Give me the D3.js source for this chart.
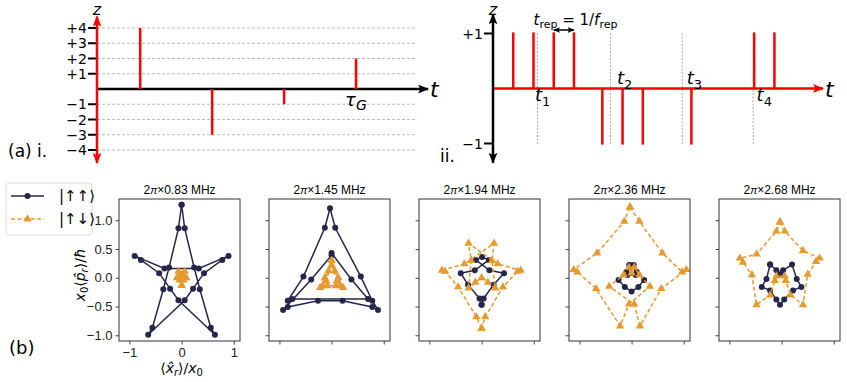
<!DOCTYPE html>
<html>
<head>
<meta charset="utf-8">
<script src="https://cdn.jsdelivr.net/npm/d3@7"></script>
<style>
  body { margin: 0; background: #fff; }
  text { font-family: "DejaVu Sans", sans-serif; }
  .num { font-family: "Liberation Sans", Arial, sans-serif; }
</style>
</head>
<body>
<div id="chart"></div>
<script>
// ----- (a) i : ideal kicks
const zLevelsI = [4, 3, 2, 1, -1, -2, -3, -4];
const zLabelsI = ["+4", "+3", "+2", "+1", "\u22121", "\u22122", "\u22123", "\u22124"];
const pulseTimesI = [0.6, 1.6, 2.6, 3.6];
const pulseAmpsI = [4, -3, -1, 2];

// ----- (a) ii : pulse train
const zLevelsII = [1, -1];
const zLabelsII = ["+1", "\u22121"];
const pulseTimesII = [1, 2, 3, 4, 5.4, 6.4, 7.4, 9.8, 12.9, 13.9];
const pulseAmpsII = [1, 1, 1, 1, -1, -1, -1, -1, 1, 1];
const markTimesII = [2.2, 5.8, 9.35, 12.85];
const markLabelsII = ["1", "2", "3", "4"];
const markLabelPos = [[2.45, -0.22], [6.5, 0.08], [9.95, 0.08], [13.4, -0.22]];

// ----- (b) phase-space trajectories
const freqs = ["0.83", "1.45", "1.94", "2.36", "2.68"];
const xTicks = [-1, 0, 1];
const yTicks = [1.0, 0.5, 0.0, -0.5, -1.0];

const upUp083 = [[0.00,1.27],[0.06,0.86],[0.24,0.18],[0.35,-0.20],[0.56,-0.87],[0.64,-0.99],
  [-0.06,-0.39],[-0.22,-0.19],[-0.43,0.08],[-0.78,0.31],[-0.90,0.38],
  [-0.33,0.16],[0.33,0.16],[0.90,0.38],
  [0.78,0.31],[0.43,0.08],[0.22,-0.19],[0.06,-0.39],[-0.64,-0.99],
  [-0.56,-0.87],[-0.35,-0.20],[-0.24,0.18],[-0.06,0.86],[0.00,1.27]];
const upDown083 = [[0.00,-0.13],[0.04,-0.04],[0.09,0.00],[0.03,0.03],[0.06,0.11],[0.00,0.05],
  [-0.06,0.11],[-0.03,0.03],[-0.09,0.00],[-0.04,-0.04],[0.00,-0.13]];

const upUp145 = [[0.00,0.43],[0.38,-0.03],[0.70,-0.37],[-0.75,-0.37],[-0.84,-0.40],[-0.54,0.02],
  [-0.13,0.87],[-0.03,1.21],[0.07,0.87],[0.56,0.02],[0.78,-0.40],[0.89,-0.56],[0.78,-0.51],
  [0.21,-0.40],[-0.26,-0.40],[-0.84,-0.51],[-0.93,-0.56],[-0.39,-0.03],[0.00,0.39]];
const upDown145 = [[0.00,0.30],[0.06,0.12],[0.13,0.00],[0.22,-0.17],[0.08,-0.14],[-0.08,-0.14],
  [-0.22,-0.17],[-0.13,0.00],[-0.06,0.12],[0.00,0.22],[0.10,-0.06],[0.17,-0.14],[-0.17,-0.14],
  [-0.10,-0.06],[0.00,0.30]];

const upUp194 = [[0.00,-0.47],[-0.04,-0.36],[-0.26,-0.12],[-0.40,0.08],[-0.13,0.13],[0.14,0.31],
  [0.01,0.36],[-0.11,0.31],[0.15,0.13],[0.43,0.08],[0.23,-0.12],[0.04,-0.36],[0.00,-0.47]];
const upDown194 = [[0.00,-0.88],[-0.10,-0.68],[-0.45,-0.16],[-0.70,0.11],[-0.76,0.13],[-0.33,0.24],
  [0.24,0.60],[0.20,0.30],[0.26,-0.18],[0.12,-0.08],[0.00,0.00],[-0.12,-0.08],[-0.25,-0.18],
  [-0.20,0.30],[-0.25,0.60],[0.31,0.24],[0.75,0.13],[0.69,0.11],[0.41,-0.16],[0.07,-0.68],[0.00,-0.88]];

const upUp236 = [[-0.04,0.22],[0.10,0.10],[0.24,-0.04],[0.13,-0.16],[0.00,-0.24],[-0.13,-0.16],
  [-0.25,-0.04],[-0.10,0.10],[0.04,0.22],[0.08,0.05],[-0.08,0.05],[-0.04,0.22]];
const upDown236 = [[-0.03,1.23],[0.15,0.98],[0.59,0.43],[0.97,0.10],[1.05,0.14],[0.57,-0.19],
  [0.16,-0.84],[0.05,-0.46],[-0.43,-0.15],[-0.15,0.05],[-0.05,0.18],[0.00,0.08],[0.05,0.18],
  [0.15,0.05],[0.35,-0.15],[-0.05,-0.46],[-0.22,-0.84],[-0.68,-0.19],[-1.04,0.10],[-1.11,0.14],
  [-0.66,0.43],[-0.14,0.98],[-0.03,1.23]];

const upUp268 = [[-0.22,0.23],[-0.10,0.13],[-0.03,0.06],[0.03,0.13],[0.20,0.23],[0.29,-0.02],
  [0.38,-0.16],[0.22,-0.22],[0.05,-0.38],[-0.03,-0.47],[-0.10,-0.38],[-0.22,-0.22],[-0.38,-0.16],
  [-0.29,-0.02],[-0.22,0.23]];
const upDown268 = [[-0.03,0.97],[0.06,0.81],[0.41,0.47],[0.73,0.34],[0.66,0.28],[0.50,0.06],
  [0.41,-0.47],[0.17,-0.30],[0.08,-0.05],[0.06,0.03],[-0.10,0.03],[-0.13,-0.05],[-0.22,-0.30],
  [-0.48,-0.47],[-0.57,0.05],[-0.74,0.27],[-0.80,0.34],[-0.48,0.41],[-0.10,0.81],[-0.03,0.97]];

const upUpSets = [upUp083, upUp145, upUp194, upUp236, upUp268];
const upDownSets = [upDown083, upDown145, upDown194, upDown236, upDown268];

const red = "#ff0000";
const navy = "#26264a";
const orange = "#e6992f";

const svg = d3.select("#chart").append("svg")
  .attr("width", 847).attr("height", 382);

// arrow heads
const defs = svg.append("defs");
function arrow(id, color, w, h) {
  defs.append("marker")
    .attr("id", id)
    .attr("viewBox", "0 0 10 8")
    .attr("refX", 9).attr("refY", 4)
    .attr("markerUnits", "userSpaceOnUse")
    .attr("markerWidth", w).attr("markerHeight", h)
    .attr("orient", "auto-start-reverse")
    .append("path")
    .attr("d", "M0,0 L10,4 L0,8 L2,4 Z")
    .attr("fill", color);
}
arrow("arrRed", red, 11, 9);
arrow("arrBlack", "#000", 11, 9);
arrow("arrSmall", "#000", 7, 6);

// helper to write mixed text with sub/superscripts
function rich(sel, parts) {
  parts.forEach(p => {
    const t = sel.append("tspan").text(p.t);
    if (p.it) t.style("font-style", "italic");
    if (p.fs) t.style("font-size", p.fs + "px");
    if (p.dy) t.attr("dy", p.dy);
  });
  return sel;
}

// ================= (a) i =================
const tI = d3.scaleLinear().domain([0, 4.6]).range([97, 428]);
const zI = d3.scaleLinear().domain([-4, 4]).range([150, 28]);

svg.append("g").selectAll("line")
  .data(zLevelsI).enter().append("line")
  .attr("x1", tI(0)).attr("x2", tI(4.45))
  .attr("y1", d => zI(d)).attr("y2", d => zI(d))
  .attr("stroke", "#bbb").attr("stroke-width", 1)
  .attr("stroke-dasharray", "3,2");

svg.append("g").selectAll("line")
  .data(zLevelsI).enter().append("line")
  .attr("x1", tI(0) - 9).attr("x2", tI(0))
  .attr("y1", d => zI(d)).attr("y2", d => zI(d))
  .attr("stroke", "#000").attr("stroke-width", 2);

svg.append("g").selectAll("text")
  .data(zLevelsI).enter().append("text")
  .attr("x", tI(0) - 10).attr("y", d => zI(d))
  .attr("dy", "0.36em").attr("text-anchor", "end")
  .style("font-size", "14px")
  .text((d, i) => zLabelsI[i]);

svg.append("line")
  .attr("x1", tI(0)).attr("x2", tI(4.6))
  .attr("y1", zI(0)).attr("y2", zI(0))
  .attr("stroke", "#000").attr("stroke-width", 2.5)
  .attr("marker-end", "url(#arrBlack)");

svg.append("line")
  .attr("x1", tI(0)).attr("x2", tI(0))
  .attr("y1", zI(-4.85)).attr("y2", zI(4.75))
  .attr("stroke", red).attr("stroke-width", 2.5)
  .attr("marker-start", "url(#arrRed)")
  .attr("marker-end", "url(#arrRed)");

svg.append("g").selectAll("line")
  .data(pulseTimesI).enter().append("line")
  .attr("x1", d => tI(d)).attr("x2", d => tI(d))
  .attr("y1", zI(0)).attr("y2", (d, i) => zI(pulseAmpsI[i]))
  .attr("stroke", red).attr("stroke-width", 2.5);

svg.append("text").attr("x", tI(0)).attr("y", 15)
  .attr("text-anchor", "middle").style("font-size", "16px").style("font-style", "italic")
  .text("z");
svg.append("text").attr("x", tI(4.6) + 2).attr("y", 97)
  .style("font-size", "22px").style("font-style", "italic").text("t");
rich(svg.append("text").attr("x", tI(3.6) - 11).attr("y", 106).style("font-size", "18px"),
  [{t: "\u03c4", it: true}, {t: "G", it: true, fs: 14, dy: 4}]);
svg.append("text").attr("x", 8).attr("y", 157).style("font-size", "17px").text("(a) i.");

// ================= (a) ii =================
const tII = d3.scaleLinear().domain([0, 16.3]).range([493, 823]);
const zII = d3.scaleLinear().domain([-1, 1]).range([143.5, 33.5]);

svg.append("g").selectAll("line")
  .data(markTimesII).enter().append("line")
  .attr("x1", d => tII(d)).attr("x2", d => tII(d))
  .attr("y1", zII(1)).attr("y2", zII(-1.03))
  .attr("stroke", "#aaa").attr("stroke-width", 1)
  .attr("stroke-dasharray", "2,1.5");

svg.append("line")
  .attr("x1", tII(0)).attr("x2", tII(16.3))
  .attr("y1", zII(0)).attr("y2", zII(0))
  .attr("stroke", red).attr("stroke-width", 2.5)
  .attr("marker-end", "url(#arrRed)");

svg.append("g").selectAll("line")
  .data(pulseTimesII).enter().append("line")
  .attr("x1", d => tII(d)).attr("x2", d => tII(d))
  .attr("y1", zII(0)).attr("y2", (d, i) => zII(pulseAmpsII[i] * 1.02))
  .attr("stroke", red).attr("stroke-width", 2.5);

svg.append("line")
  .attr("x1", tII(0)).attr("x2", tII(0))
  .attr("y1", zII(-1.35)).attr("y2", zII(1.35))
  .attr("stroke", "#000").attr("stroke-width", 2.5)
  .attr("marker-start", "url(#arrBlack)")
  .attr("marker-end", "url(#arrBlack)");

svg.append("g").selectAll("line")
  .data(zLevelsII).enter().append("line")
  .attr("x1", tII(0) - 9).attr("x2", tII(0))
  .attr("y1", d => zII(d)).attr("y2", d => zII(d))
  .attr("stroke", "#000").attr("stroke-width", 2);

svg.append("g").selectAll("text")
  .data(zLevelsII).enter().append("text")
  .attr("x", tII(0) - 10).attr("y", d => zII(d))
  .attr("dy", "0.36em").attr("text-anchor", "end")
  .style("font-size", "14px")
  .text((d, i) => zLabelsII[i]);

markLabelsII.forEach((lab, i) => {
  const p = markLabelPos[i];
  rich(svg.append("text").attr("x", tII(p[0])).attr("y", zII(p[1]))
      .attr("text-anchor", "middle").style("font-size", "18px"),
    [{t: "t", it: true}, {t: lab, fs: 13, dy: 5}]);
});

svg.append("text").attr("x", tII(0)).attr("y", 15)
  .attr("text-anchor", "middle").style("font-size", "16px").style("font-style", "italic")
  .text("z");
svg.append("text").attr("x", tII(16.3) + 2).attr("y", 97)
  .style("font-size", "22px").style("font-style", "italic").text("t");
svg.append("text").attr("x", 440).attr("y", 162).style("font-size", "17px").text("ii.");

rich(svg.append("text").attr("x", tII(2)).attr("y", 25).style("font-size", "15px"),
  [{t: "t", it: true}, {t: "rep", fs: 11, dy: 3}, {t: " = 1/", dy: -3},
   {t: "f", it: true}, {t: "rep", fs: 11, dy: 3}]);
svg.append("line")
  .attr("x1", tII(3)).attr("x2", tII(4))
  .attr("y1", 30).attr("y2", 30)
  .attr("stroke", "#000").attr("stroke-width", 1.5)
  .attr("marker-start", "url(#arrSmall)")
  .attr("marker-end", "url(#arrSmall)");

// ================= (b) =================
const panelLeft = 119, panelStep = 150, panelW = 121, panelTop = 199, panelH = 142;
const triangle = d3.symbol().type(d3.symbolTriangle).size(30);

freqs.forEach((f, i) => {
  const left = panelLeft + i * panelStep;
  const x = d3.scaleLinear().domain([-1.2, 1.12]).range([left, left + panelW]);
  const y = d3.scaleLinear().domain([-1.1, 1.37]).range([panelTop + panelH, panelTop]);
  const g = svg.append("g");

  const xa = g.append("g")
    .attr("transform", "translate(0," + (panelTop + panelH) + ")")
    .call(d3.axisBottom(x).tickValues(xTicks).tickSize(3.5).tickPadding(3)
      .tickFormat(i === 0 ? d3.format("d") : ""));
  const ya = g.append("g")
    .attr("transform", "translate(" + left + ",0)")
    .call(d3.axisLeft(y).tickValues(yTicks).tickSize(3.5).tickPadding(3)
      .tickFormat(i === 0 ? d3.format(".1f") : ""));
  [xa, ya].forEach(a => {
    a.select(".domain").remove();
    a.selectAll("line").attr("stroke", "#444");
    a.selectAll("text").attr("class", "num").style("font-size", "13px").attr("fill", "#222");
  });

  const line = d3.line().x(d => x(d[0])).y(d => y(d[1]));

  g.append("path").datum(upUpSets[i])
    .attr("fill", "none").attr("stroke", navy).attr("stroke-width", 1.5)
    .attr("d", line);
  g.append("g").selectAll("circle")
    .data(upUpSets[i]).enter().append("circle")
    .attr("cx", d => x(d[0])).attr("cy", d => y(d[1])).attr("r", 3)
    .attr("fill", navy);

  g.append("path").datum(upDownSets[i])
    .attr("fill", "none").attr("stroke", orange).attr("stroke-width", 1.5)
    .attr("stroke-dasharray", "4,2.5")
    .attr("d", line);
  g.append("g").selectAll("path.tri")
    .data(upDownSets[i]).enter().append("path")
    .attr("class", "tri")
    .attr("transform", d => "translate(" + x(d[0]) + "," + y(d[1]) + ")")
    .attr("d", triangle)
    .attr("fill", orange);

  g.append("rect")
    .attr("x", left).attr("y", panelTop).attr("width", panelW).attr("height", panelH)
    .attr("fill", "none").attr("stroke", "#333").attr("stroke-width", 1);

  rich(g.append("text").attr("class", "num")
      .attr("x", left + panelW / 2).attr("y", 194)
      .attr("text-anchor", "middle").style("font-size", "12px"),
    [{t: "2"}, {t: "\u03c0", it: true, fs: 10.5}, {t: "\u00d7" + f + " MHz"}]);

  if (i === 0) {
    rich(g.append("text").attr("x", x(0)).attr("y", 373)
        .attr("text-anchor", "middle").style("font-size", "14px"),
      [{t: "\u27e8"}, {t: "x\u0302", it: true}, {t: "r", it: true, fs: 10, dy: 3},
       {t: "\u27e9/", dy: -3}, {t: "x", it: true}, {t: "0", fs: 10, dy: 3}]);
    rich(g.append("text")
        .attr("transform", "translate(85," + y(0.05) + ") rotate(-90)")
        .attr("text-anchor", "middle").style("font-size", "14px"),
      [{t: "x", it: true}, {t: "0", fs: 10, dy: 3}, {t: "\u27e8", dy: -3},
       {t: "p\u0302", it: true}, {t: "r", it: true, fs: 10, dy: 3},
       {t: "\u27e9/", dy: -3}, {t: "\u0127", it: true}]);
  }
});

// legend
const lg = svg.append("g");
lg.append("rect").attr("x", 6).attr("y", 183).attr("width", 86).attr("height", 52)
  .attr("rx", 3).attr("fill", "#fff").attr("stroke", "#ddd");
lg.append("line").attr("x1", 11).attr("x2", 44).attr("y1", 196).attr("y2", 196)
  .attr("stroke", navy).attr("stroke-width", 1.5);
lg.append("circle").attr("cx", 27.5).attr("cy", 196).attr("r", 3).attr("fill", navy);
lg.append("line").attr("x1", 11).attr("x2", 44).attr("y1", 219).attr("y2", 219)
  .attr("stroke", orange).attr("stroke-width", 1.5).attr("stroke-dasharray", "4,2.5");
lg.append("path").attr("transform", "translate(27.5,219)").attr("d", triangle).attr("fill", orange);
lg.append("text").attr("x", 59).attr("y", 201).style("font-size", "15px").text("|\u2191\u2191\u27e9");
lg.append("text").attr("x", 59).attr("y", 224).style("font-size", "15px").text("|\u2191\u2193\u27e9");

svg.append("text").attr("x", 9).attr("y", 354).style("font-size", "18px").text("(b)");
</script>
</body>
</html>
